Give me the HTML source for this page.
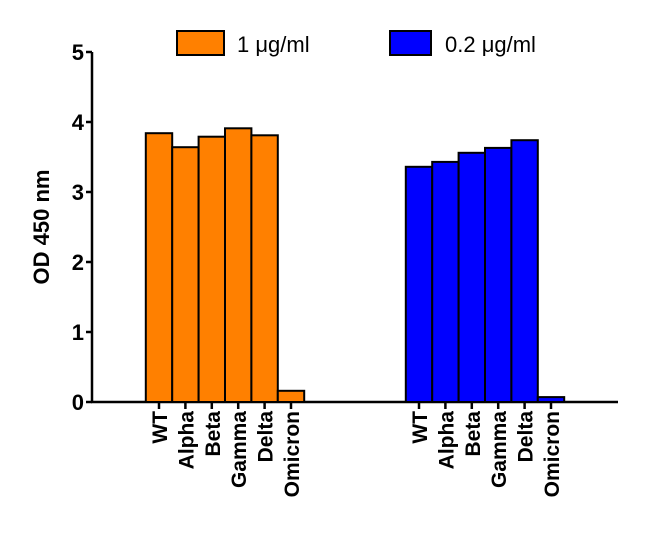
<!DOCTYPE html>
<html><head><meta charset="utf-8"><style>
body{margin:0;background:#fff}
svg{display:block;font-family:"Liberation Sans",sans-serif}
</style></head><body>
<svg id="chart" width="650" height="546">
<g id="g"></g>
</svg>
<script>
const categories=["WT","Alpha","Beta","Gamma","Delta","Omicron"];
const series1=[3.84,3.64,3.79,3.91,3.81,0.16];
const series2=[3.36,3.43,3.56,3.63,3.74,0.07];
const yTicks=[0,1,2,3,4,5];
const seriesNames=["1 μg/ml","0.2 μg/ml"];
const colors=["#ff8000","#0000ff"];
const NS="http://www.w3.org/2000/svg";
const g=document.getElementById('g');
function mk(t,a,txt){const e=document.createElementNS(NS,t);for(const k in a)e.setAttribute(k,a[k]);if(txt!=null)e.textContent=txt;g.appendChild(e);return e;}
const y0=402,pxPerUnit=70;
function y(v){return y0-v*pxPerUnit;}
const groupStart=[159,419],step=26.4,bw=26.4;
function x(gi,i){return groupStart[gi]+i*step;}
let e=mk('line',{x1:92,y1:y(5),x2:92,y2:y0+1,stroke:'#000','stroke-width':2.5});


e=mk('line',{x1:91,y1:y0,x2:618,y2:y0,stroke:'#000','stroke-width':2.5});


yTicks.forEach(t=>{
 let l=mk('line',{x1:86,y1:y(t),x2:92,y2:y(t),stroke:'#000','stroke-width':2.5});
 
 
 let tx=mk('text',{x:84,y:y(t)+8,'text-anchor':'end','font-size':22,'font-weight':'bold'},t);
 
 
});
e=mk('text',{x:0,y:0,transform:'translate(49,227) rotate(-90)','text-anchor':'middle','font-size':22,'font-weight':'bold'},'OD 450 nm');


[series1,series2].forEach((s,gi)=>{
 s.forEach((v,i)=>{
  const cx=x(gi,i);
  let r=mk('rect',{x:cx-bw/2,y:y(v),width:bw,height:y0-y(v),fill:colors[gi],stroke:'#000','stroke-width':2});
  
  
  let t=mk('line',{x1:cx,y1:y0,x2:cx,y2:y0+7,stroke:'#000','stroke-width':2.5});
  
  
  let tx=mk('text',{x:0,y:0,transform:`translate(${cx+8},411) rotate(-90)`,'text-anchor':'end','font-size':21,'font-weight':'bold'},categories[i]);
  
  
 });
});
const lx=[177,390],tx=[237,445];
seriesNames.forEach((n,i)=>{
 let r=mk('rect',{x:lx[i],y:31,width:i?41:47,height:24,fill:colors[i],stroke:'#000','stroke-width':2});
 
 
 let t=mk('text',{x:tx[i],y:52,'font-size':22},n);
 
 
});
</script>
</body></html>
